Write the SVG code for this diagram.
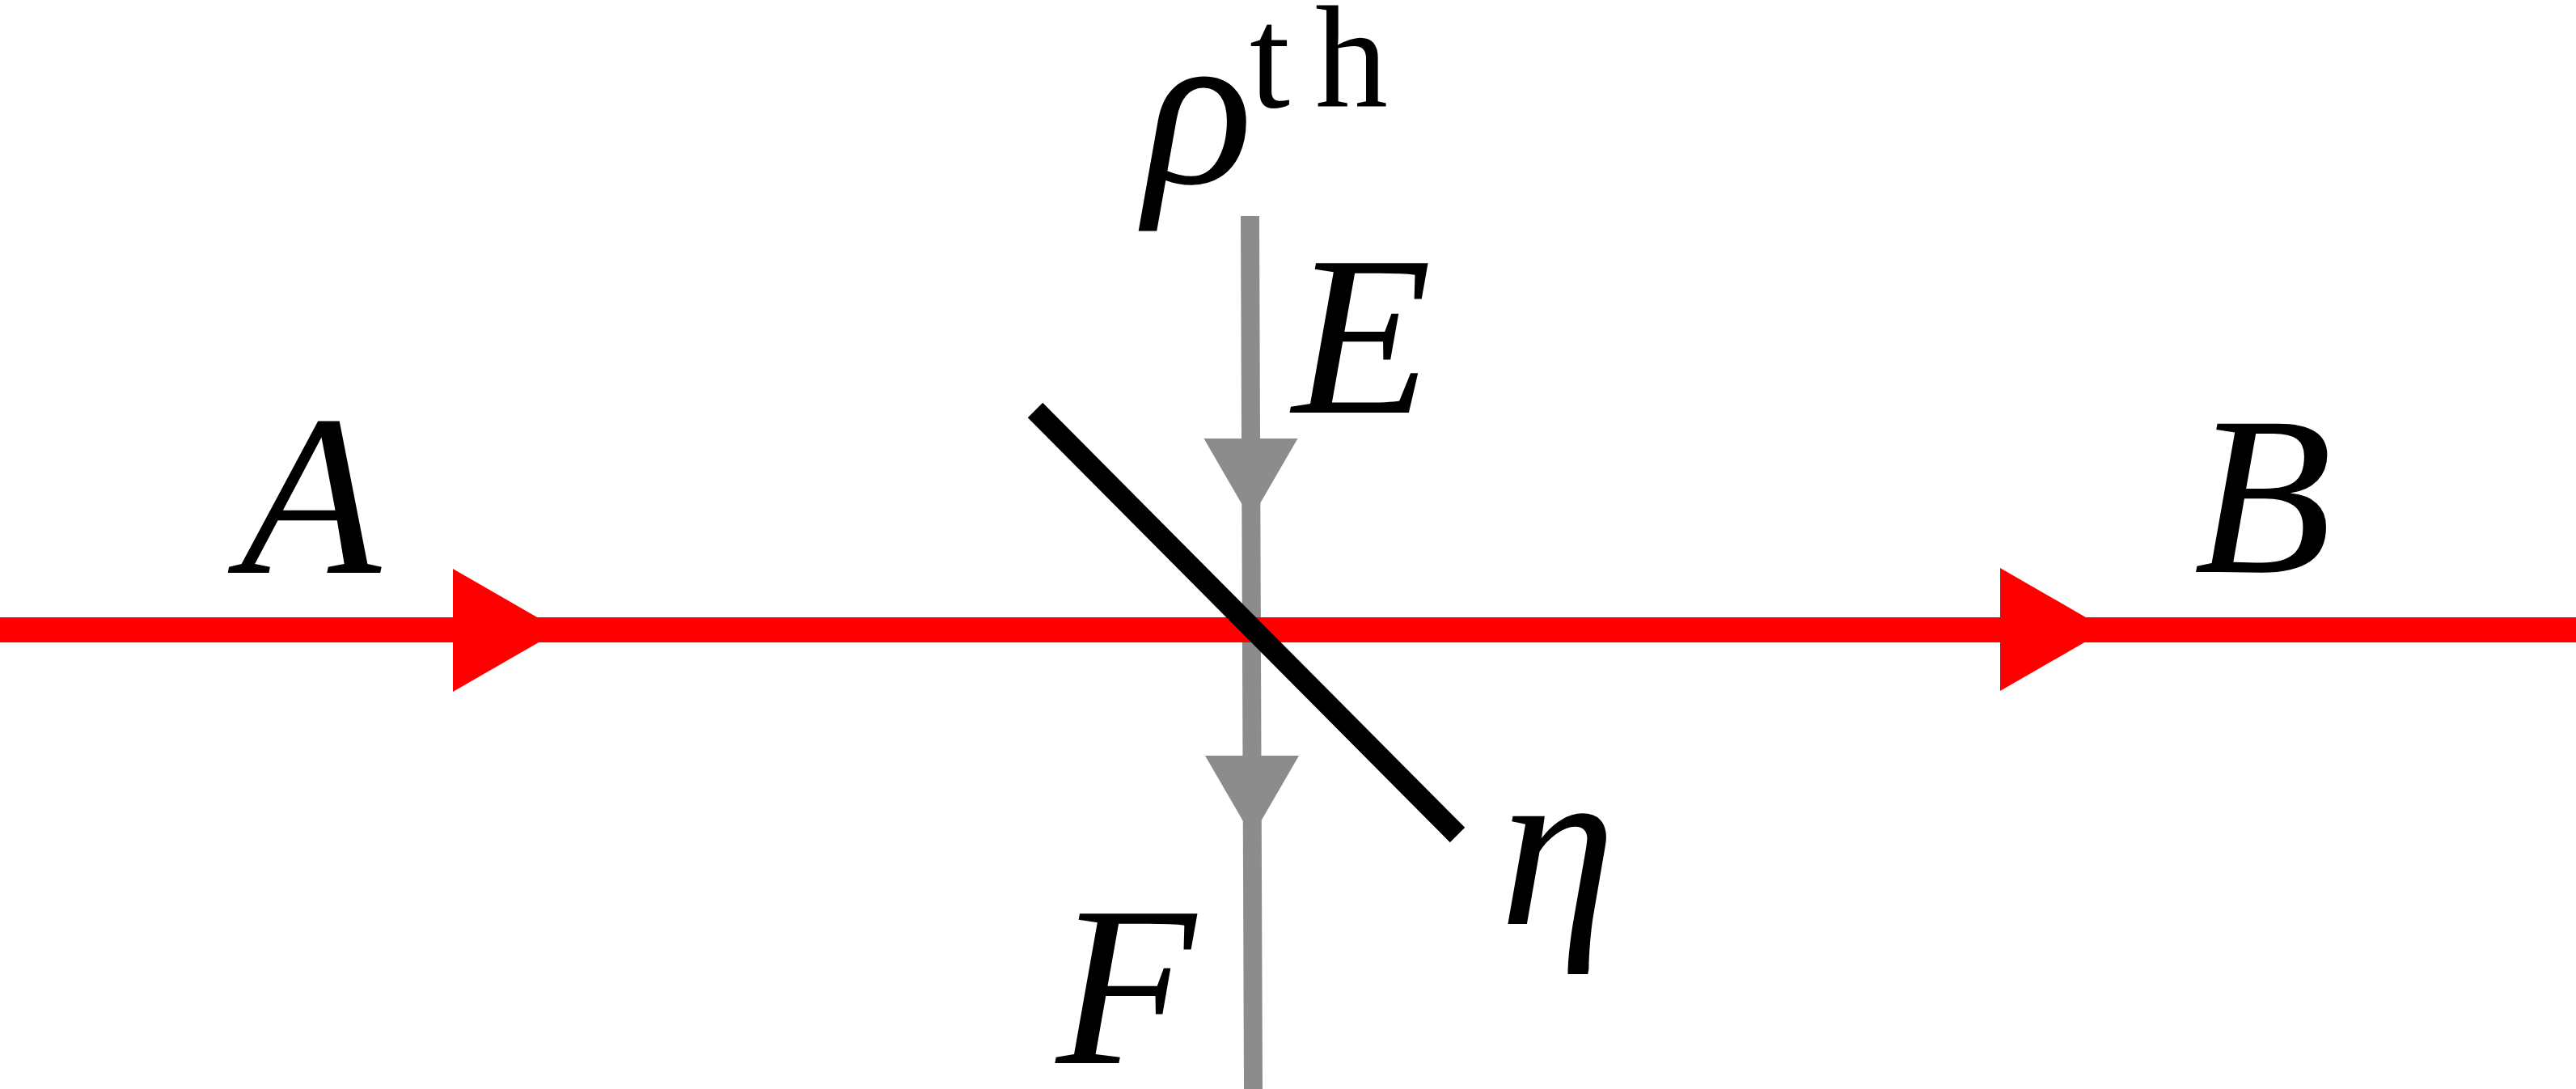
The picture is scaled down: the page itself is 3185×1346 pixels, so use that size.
<svg xmlns="http://www.w3.org/2000/svg" xmlns:xlink="http://www.w3.org/1999/xlink" width="3185" height="1346" viewBox="0 0 3185 1346">
  <style>
    .beam-red { stroke: #ff0000; stroke-width: 31; fill: none; stroke-linecap: butt; }
    .beam-grey { stroke: #8c8c8c; stroke-width: 23; fill: none; stroke-linecap: butt; }
    .mirror { stroke: #000000; stroke-width: 26; fill: none; stroke-linecap: butt; }
    .head-red { fill: #ff0000; }
    .head-grey { fill: #8c8c8c; }
    .math { font-family: "Liberation Serif", "DejaVu Serif", serif; font-style: italic; fill: #000000; text-anchor: middle; }
    .roman { font-family: "Liberation Serif", "DejaVu Serif", serif; font-style: normal; fill: #000000; }
  </style>
  <defs>
    <polygon id="triRight" points="0,-76 0,76 132,0"/>
    <polygon id="triDown" points="-58,0 58,0 0,100"/>
  </defs>
  <rect width="3185" height="1346" fill="#ffffff"/>

  <g id="connectors">
    <g id="beam-vertical">
      <line class="beam-grey" x1="1545.5" y1="267" x2="1549.5" y2="1346"/>
      <use xlink:href="#triDown" href="#triDown" class="head-grey" x="1546.5" y="542"/>
      <use xlink:href="#triDown" href="#triDown" class="head-grey" x="1548" y="934"/>
    </g>
    <g id="beam-horizontal">
      <line class="beam-red" x1="0" y1="778.5" x2="3185" y2="778.5"/>
      <use xlink:href="#triRight" href="#triRight" class="head-red" x="560" y="779"/>
      <use xlink:href="#triRight" href="#triRight" class="head-red" x="2473" y="778"/>
    </g>
  </g>

  <g id="beamsplitter">
    <line class="mirror" x1="1280" y1="507" x2="1802" y2="1032"/>
  </g>

  <g id="label-rho">
    <text class="math" x="1482" y="226" font-size="280">ρ</text>
    <text class="roman" y="132" font-size="180"><tspan x="1545">t</tspan><tspan x="1626">h</tspan></text>
  </g>
  <g id="label-E">
    <text class="math" x="1684" y="510" font-size="282">E</text>
  </g>
  <g id="label-A">
    <text class="math" x="384" y="708" font-size="284">A</text>
  </g>
  <g id="label-B">
    <text class="math" x="2798" y="707" font-size="280">B</text>
  </g>
  <g id="label-eta">
    <text class="math" x="1926" y="1142" font-size="290">η</text>
  </g>
  <g id="label-F">
    <text class="math" x="1392" y="1314" font-size="282">F</text>
  </g>
</svg>
